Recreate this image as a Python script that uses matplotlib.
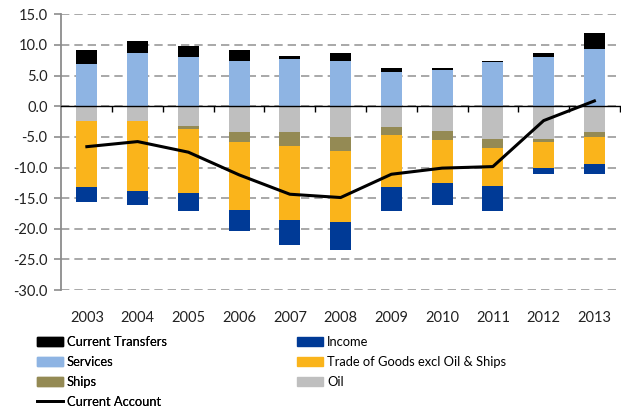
import numpy as np
import matplotlib
matplotlib.use("Agg")
import matplotlib.pyplot as plt
from matplotlib.patches import Patch
from matplotlib.lines import Line2D
from matplotlib.transforms import blended_transform_factory

plt.rcParams['font.family'] = ['Lato', 'DejaVu Sans']
plt.rcParams['axes.unicode_minus'] = False

# ---------------------------------------------------------------------------
# Current account components, % of GDP
# ---------------------------------------------------------------------------
years = ['2003', '2004', '2005', '2006', '2007', '2008',
         '2009', '2010', '2011', '2012', '2013']

services = [6.85, 8.65, 7.99, 7.39, 7.66, 7.39, 5.64, 5.92, 7.17, 7.99, 9.35]
transfers = [2.33, 1.95, 1.85, 1.79, 0.54, 1.25, 0.56, 0.33, 0.22, 0.65, 2.55]
oil = [-2.35, -2.35, -3.30, -4.14, -4.14, -5.06, -3.33, -3.98, -5.33, -5.33, -4.14]
ships = [0.0, 0.0, -0.40, -1.73, -2.29, -2.18, -1.35, -1.52, -1.52, -0.54, -0.86]
trade = [-10.85, -11.45, -10.50, -11.10, -12.17, -11.63, -8.52, -7.10, -6.15, -4.13, -4.46]
income = [-2.36, -2.35, -2.90, -3.33, -4.10, -4.63, -3.90, -3.55, -4.10, -1.00, -1.54]
current_account = [-6.60, -5.77, -7.50, -11.20, -14.36, -14.90,
                   -11.10, -10.10, -9.85, -2.35, 0.86]

C_TRANSFERS = '#000000'
C_SERVICES = '#8EB4E3'
C_SHIPS = '#948A54'
C_OIL = '#BFBFBF'
C_TRADE = '#FAB41B'
C_INCOME = '#003A96'

x = np.arange(len(years))
w = 0.41

fig = plt.figure(figsize=(6.21, 4.08), dpi=100)
ax = fig.add_axes([0.099, 0.289, 0.899, 0.676])

# positive stack
ax.bar(x, services, w, color=C_SERVICES, zorder=3)
ax.bar(x, transfers, w, bottom=services, color=C_TRANSFERS, zorder=3)

# negative stack
neg_base = np.zeros(len(years))
for vals, col in [(oil, C_OIL), (ships, C_SHIPS), (trade, C_TRADE), (income, C_INCOME)]:
    ax.bar(x, vals, w, bottom=neg_base, color=col, zorder=3)
    neg_base = neg_base + np.array(vals)

ax.plot(x, current_account, color='black', lw=2.2, zorder=4)

ax.set_xlim(-0.5, len(years) - 0.5)
ax.set_ylim(-30, 15)
ax.set_yticks(np.arange(-30, 15.1, 5))
ax.set_yticklabels([f'{v:.1f}' for v in np.arange(-30, 15.1, 5)], fontsize=10.5, color='#222222')
ax.yaxis.grid(True, color='#9A9A9A', lw=1.2, linestyle=(0, (5, 3)), zorder=0)
ax.tick_params(axis='y', direction='out', length=5, width=1.2, color='#8C8C8C', pad=5)

# x axis sits on zero, with boundary ticks
for s in ['top', 'right']:
    ax.spines[s].set_visible(False)
ax.spines['left'].set_color('#8C8C8C')
ax.spines['left'].set_linewidth(1.3)
ax.spines['bottom'].set_position(('data', 0))
ax.spines['bottom'].set_color('black')
ax.spines['bottom'].set_linewidth(1.0)
ax.spines['bottom'].set_zorder(5)
ax.set_xticks(x)
ax.set_xticklabels([])
ax.tick_params(axis='x', which='major', length=0)
ax.set_xticks(np.arange(0.5, len(years), 1.0), minor=True)
ax.tick_params(axis='x', which='minor', direction='out', length=4, width=1.0, color='black')

trans = blended_transform_factory(ax.transData, ax.transAxes)
for xi, yr in zip(x, years):
    ax.text(xi, -0.102, yr, transform=trans, ha='center', va='center',
            fontsize=10.5, color='#222222')

# legend in two independent columns
leg_kw = dict(loc='upper left', frameon=False, fontsize=9.3, handlelength=2.05,
              handleheight=0.76, handletextpad=0.3, labelspacing=0.62,
              borderaxespad=0, borderpad=0)
left_handles = [
    Patch(color=C_TRANSFERS, label='Current Transfers'),
    Patch(color=C_SERVICES, label='Services'),
    Patch(color=C_SHIPS, label='Ships'),
    Line2D([], [], color='black', lw=2, label='Current Account'),
]
right_handles = [
    Patch(color=C_INCOME, label='Income'),
    Patch(color=C_TRADE, label='Trade of Goods excl Oil & Ships'),
    Patch(color=C_OIL, label='Oil'),
]
leg1 = fig.legend(handles=left_handles, bbox_to_anchor=(0.059, 0.177), **leg_kw)
fig.add_artist(leg1)
fig.legend(handles=right_handles, bbox_to_anchor=(0.478, 0.177), **leg_kw)

fig.savefig('out.png', dpi=100)
